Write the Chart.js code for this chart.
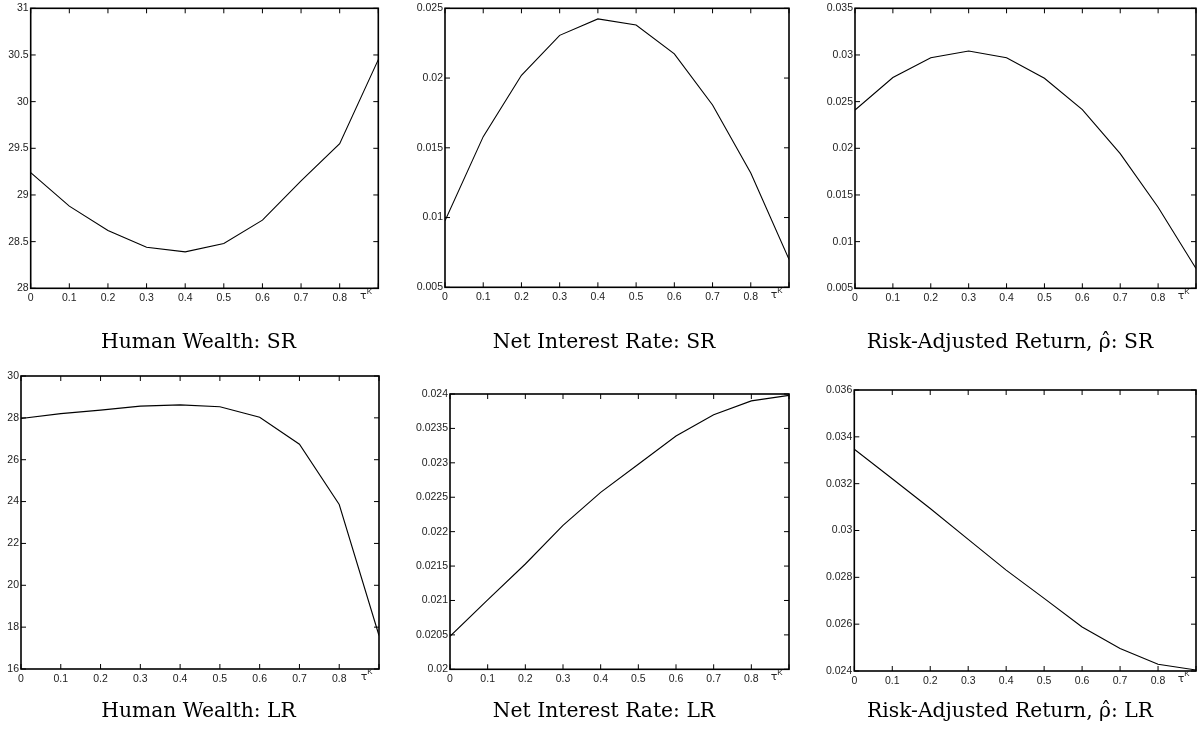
<!DOCTYPE html>
<html>
<head>
<meta charset="utf-8">
<script src="https://cdn.jsdelivr.net/npm/chart.js@4/dist/chart.umd.min.js"></script>
<style>
  html, body { margin: 0; padding: 0; background: #fff; }
  body { width: 1199px; height: 740px; position: relative; overflow: hidden; }
  .pane { position: absolute; }
</style>
</head>
<body>
<div class="pane" id="p1"><canvas id="c1"></canvas></div>
<div class="pane" id="p2"><canvas id="c2"></canvas></div>
<div class="pane" id="p3"><canvas id="c3"></canvas></div>
<div class="pane" id="p4"><canvas id="c4"></canvas></div>
<div class="pane" id="p5"><canvas id="c5"></canvas></div>
<div class="pane" id="p6"><canvas id="c6"></canvas></div>
<script>
// ---- data ----
const tauK = [0, 0.1, 0.2, 0.3, 0.4, 0.5, 0.6, 0.7, 0.8, 0.9];

const humanWealthSR = [29.24, 28.88, 28.62, 28.44, 28.39, 28.48, 28.73, 29.15, 29.55, 30.45];
const netInterestSR = [0.00977, 0.0158, 0.0202, 0.02306, 0.02424, 0.0238, 0.02173, 0.01807, 0.01319, 0.0070];
const riskAdjSR     = [0.0241, 0.02759, 0.02971, 0.03043, 0.02971, 0.02751, 0.02415, 0.01943, 0.01368, 0.00713];

const humanWealthLR = [27.97, 28.2, 28.37, 28.56, 28.62, 28.53, 28.03, 26.74, 23.86, 17.6];
const netInterestLR = [0.02048, 0.02101, 0.02153, 0.02209, 0.02257, 0.02298, 0.02339, 0.0237, 0.0239, 0.02398];
const riskAdjLR     = [0.03347, 0.03221, 0.03094, 0.02962, 0.02831, 0.0271, 0.02588, 0.02496, 0.02429, 0.02404];

const titles = [
  "Human Wealth: SR", "Net Interest Rate: SR", "Risk-Adjusted Return, \u03C1\u0302: SR",
  "Human Wealth: LR", "Net Interest Rate: LR", "Risk-Adjusted Return, \u03C1\u0302: LR"
];
const yMin  = [28, 0.005, 0.005, 16, 0.02, 0.024];
const yMax  = [31, 0.025, 0.035, 30, 0.024, 0.036];
const yStep = [0.5, 0.005, 0.005, 2, 0.0005, 0.002];
const xTickLabels = ["0", "0.1", "0.2", "0.3", "0.4", "0.5", "0.6", "0.7", "0.8", ""];
const seriesList = [humanWealthSR, netInterestSR, riskAdjSR, humanWealthLR, netInterestLR, riskAdjLR];

// ---- layout (canvas boxes and plot areas) ----
// [canvasX, canvasY, canvasW, canvasH, plotL, plotR, plotT, plotB, titleCenterY]
const layout = [
  [0,   0,   397, 365, 30.7,  378.3,  3,   288.3, 343],
  [410, 0,   388, 365, 445,   789,    5,   287.3, 343],
  [820, 0,   380, 365, 855,   1197.5, 6.7, 288.3, 343],
  [0,   365, 397, 375, 21,    379,    376, 669,   712],
  [410, 365, 388, 375, 450,   789,    394, 669.3, 712],
  [820, 365, 380, 375, 854.3, 1197.5, 390, 671,   712]
];

const TICK_FONT = { family: "'Liberation Sans', Arial, sans-serif", size: 10.5 };
const TITLE_FONT = { family: "'DejaVu Serif', serif", size: 20.3, weight: 'normal', lineHeight: 1.2 };
const XH = 20;

function fmt(v) { return String(+Number(v).toFixed(6)); }

const frameTicks = {
  id: 'frameTicks',
  afterDraw(chart) {
    const ctx = chart.ctx, a = chart.chartArea;
    const xs = chart.scales.x, ys = chart.scales.y;
    ctx.save();
    ctx.strokeStyle = '#000';
    ctx.lineWidth = 1;
    ctx.beginPath();
    xs.ticks.forEach(t => {
      const p = xs.getPixelForValue(t.value);
      ctx.moveTo(p, a.bottom); ctx.lineTo(p, a.bottom - 5);
      ctx.moveTo(p, a.top); ctx.lineTo(p, a.top + 5);
    });
    ys.ticks.forEach(t => {
      const p = ys.getPixelForValue(t.value);
      ctx.moveTo(a.left, p); ctx.lineTo(a.left + 5, p);
      ctx.moveTo(a.right, p); ctx.lineTo(a.right - 5, p);
    });
    ctx.stroke();
    ctx.lineWidth = 1.6;
    ctx.strokeRect(a.left, a.top, a.right - a.left, a.bottom - a.top);
    // tau^K label at last x tick
    const pl = xs.getPixelForValue(0.9);
    ctx.fillStyle = '#222';
    ctx.textAlign = 'center';
    ctx.textBaseline = 'middle';
    ctx.font = "11px 'DejaVu Sans', sans-serif";
    ctx.fillText('\u03C4', pl - 15, a.bottom + 8);
    ctx.font = "8px 'Liberation Sans', sans-serif";
    ctx.fillText('K', pl - 9, a.bottom + 3);
    ctx.restore();
  }
};

layout.forEach((L, i) => {
  const [cx, cy, cw, ch, pl, pr, pt, pb, ty] = L;
  const pane = document.getElementById('p' + (i + 1));
  pane.style.left = cx + 'px';
  pane.style.top = cy + 'px';
  pane.style.width = cw + 'px';
  pane.style.height = ch + 'px';
  const titleText = TITLE_FONT.size * TITLE_FONT.lineHeight;
  const tPadTop = ty - pb - XH - titleText / 2;
  const tPadBot = (cy + ch) - (pb + XH + tPadTop + titleText);
  const yW = pl - cx;
  const rightW = cx + cw - pr;
  new Chart(document.getElementById('c' + (i + 1)), {
    type: 'line',
    data: {
      datasets: [{
        data: tauK.map((x, k) => ({ x: x, y: seriesList[i][k] })),
        borderColor: '#000',
        borderWidth: 1.1,
        pointRadius: 0,
        tension: 0,
        fill: false
      }]
    },
    options: {
      responsive: true,
      maintainAspectRatio: false,
      animation: false,
      layout: { padding: { left: 0, top: pt - cy, right: 0, bottom: 0 } },
      plugins: {
        legend: { display: false },
        tooltip: { enabled: false },
        title: {
          display: true,
          position: 'bottom',
          text: titles[i],
          color: '#000',
          font: TITLE_FONT,
          padding: { top: tPadTop, bottom: tPadBot }
        }
      },
      scales: {
        x: {
          type: 'linear',
          min: 0, max: 0.9,
          grid: { display: false, drawTicks: false },
          border: { display: false },
          ticks: {
            stepSize: 0.1,
            maxRotation: 0,
            autoSkip: false,
            padding: 4,
            color: '#222',
            font: TICK_FONT,
            callback: (v, idx) => xTickLabels[idx] !== undefined ? xTickLabels[idx] : fmt(v)
          },
          afterFit: s => { s.height = XH; }
        },
        y: {
          type: 'linear',
          min: yMin[i], max: yMax[i],
          grid: { display: false, drawTicks: false },
          border: { display: false },
          ticks: {
            stepSize: yStep[i],
            autoSkip: false,
            padding: 2,
            color: '#222',
            font: TICK_FONT,
            callback: v => fmt(v)
          },
          afterFit: s => { s.width = yW; }
        },
        yRight: {
          type: 'linear',
          position: 'right',
          display: true,
          grid: { display: false, drawTicks: false },
          border: { display: false },
          ticks: { display: false },
          afterFit: s => { s.width = rightW; }
        }
      }
    },
    plugins: [frameTicks]
  });
});
</script>
</body>
</html>
